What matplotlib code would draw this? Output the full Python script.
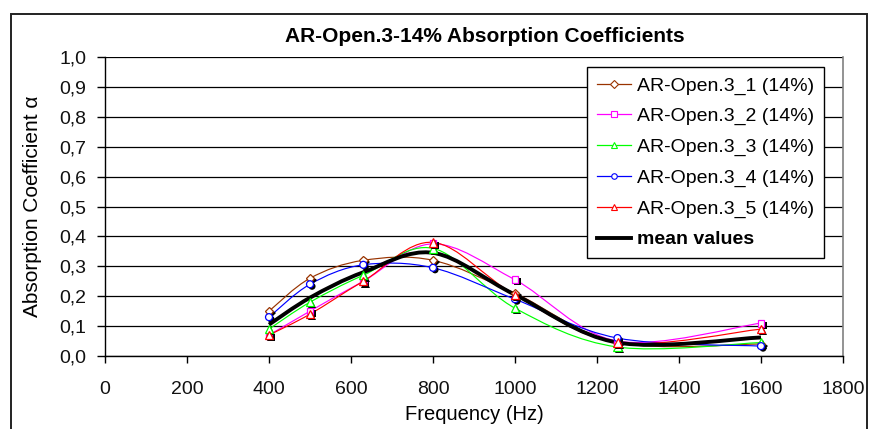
import matplotlib
matplotlib.use("Agg")
import matplotlib.pyplot as plt
import numpy as np
from matplotlib.path import Path
from matplotlib.patches import PathPatch, Rectangle
from matplotlib.lines import Line2D
from matplotlib.ticker import FuncFormatter
import matplotlib.patheffects as pe

plt.rcParams['font.family'] = ['Liberation Sans', 'DejaVu Sans']

# ---- data ----
freqs = [400, 500, 630, 800, 1000, 1250, 1600]
s1 = [0.15, 0.26, 0.32, 0.32, 0.21, 0.045, 0.04]
s2 = [0.07, 0.15, 0.25, 0.375, 0.255, 0.05, 0.11]
s3 = [0.09, 0.18, 0.27, 0.36, 0.16, 0.03, 0.045]
s4 = [0.13, 0.24, 0.305, 0.295, 0.19, 0.06, 0.033]
s5 = [0.07, 0.14, 0.25, 0.38, 0.205, 0.045, 0.09]
mean_vals = [0.105, 0.195, 0.28, 0.345, 0.205, 0.045, 0.062]
series_labels = ["AR-Open.3_1 (14%)", "AR-Open.3_2 (14%)", "AR-Open.3_3 (14%)",
                 "AR-Open.3_4 (14%)", "AR-Open.3_5 (14%)"]
mean_label = "mean values"
title = "AR-Open.3-14% Absorption Coefficients"
xlabel = "Frequency (Hz)"
ylabel = "Absorption Coefficient \u03b1"
xticks = [0, 200, 400, 600, 800, 1000, 1200, 1400, 1600, 1800]
yticks = [0.0, 0.1, 0.2, 0.3, 0.4, 0.5, 0.6, 0.7, 0.8, 0.9, 1.0]

colors = ['#993300', '#FF00FF', '#00FF00', '#0000FF', '#FF0000']
markers = ['D', 's', '^', 'o', '^']
msizes = [4.5, 5, 6, 5, 6]


def smooth_path(x, y):
    pts = np.column_stack([x, y]).astype(float)
    n = len(pts)
    verts = [pts[0]]
    codes = [Path.MOVETO]
    for i in range(n - 1):
        p0 = pts[i - 1] if i > 0 else pts[i]
        p1 = pts[i]
        p2 = pts[i + 1]
        p3 = pts[i + 2] if i + 2 < n else pts[i + 1]
        c1 = p1 + (p2 - p0) / 6.0
        c2 = p2 - (p3 - p1) / 6.0
        verts += [c1, c2, p2]
        codes += [Path.CURVE4] * 3
    return Path(verts, codes)


W, H = 869, 429
fig = plt.figure(figsize=(W / 100, H / 100), dpi=100)
fig.patch.set_facecolor('white')
ax = fig.add_axes([105 / W, 1 - 356 / H, (843 - 105) / W, (356 - 57) / H])

ax.set_xlim(0, 1800)
ax.set_ylim(0, 1.0)

# grid
for v in yticks:
    ax.axhline(v, color='black', lw=0.9, zorder=1)

all_series = [s1, s2, s3, s4, s5]
shadow = [pe.SimplePatchShadow(offset=(1.5, -1.5), shadow_rgbFace='black', alpha=1.0), pe.Normal()]
for s, c in zip(all_series, colors):
    ax.add_patch(PathPatch(smooth_path(freqs, s), fill=False, edgecolor=c, lw=0.85,
                           transform=ax.transData, zorder=3))
for s, c, m, ms in zip(all_series, colors, markers, msizes):
    ax.plot(freqs, s, linestyle='none', marker=m, markersize=ms, markerfacecolor='white',
            markeredgecolor=c, markeredgewidth=0.9, zorder=5, path_effects=shadow)
ax.add_patch(PathPatch(smooth_path(freqs, mean_vals), fill=False, edgecolor='black', lw=2.8,
                       transform=ax.transData, zorder=4))

# spines
ax.spines['top'].set_visible(False)
ax.spines['right'].set_color('#808080')
ax.spines['right'].set_linewidth(1.2)
ax.spines['left'].set_color('black')
ax.spines['bottom'].set_color('black')
ax.spines['left'].set_linewidth(1.0)
ax.spines['bottom'].set_linewidth(1.0)

ax.set_xticks(xticks)
ax.set_yticks(yticks)
ax.yaxis.set_major_formatter(FuncFormatter(lambda v, p: f"{v:.1f}".replace('.', ',')))
ax.xaxis.set_major_formatter(FuncFormatter(lambda v, p: f"{int(round(v))}"))
ax.tick_params(axis='both', direction='out', width=1.0, color='black',
               labelsize=14, labelcolor='#111111')
ax.tick_params(axis='x', length=5, pad=13)
ax.tick_params(axis='y', length=6, pad=7.5)

ax.set_xlabel(xlabel, fontsize=14.5, va='baseline')
ax.xaxis.set_label_coords((474 - 105) / (843 - 105), -(420.5 - 356) / (356 - 57))
ax.set_ylabel(ylabel, fontsize=15, va='center')
ax.yaxis.set_label_coords((33 - 105) / (843 - 105), 0.5)

fig.text(485 / W, 1 - 36 / H, title, ha='center', va='center', fontsize=15, fontweight='bold')

# legend
handles = []
for c, m in zip(colors, markers):
    handles.append(Line2D([0], [0], color=c, lw=0.9, marker=m, markersize=4,
                          markerfacecolor='white', markeredgecolor=c, markeredgewidth=0.8))
handles.append(Line2D([0], [0], color='black', lw=2.8))
labels = series_labels + [mean_label]
leg = fig.legend(handles, labels, loc='upper right', bbox_to_anchor=(824 / W, 1 - 67 / H),
                 bbox_transform=fig.transFigure, fontsize=14, frameon=True, fancybox=False,
                 edgecolor='black', framealpha=1, numpoints=1, handlelength=1.75,
                 handletextpad=0.3, labelspacing=0.67, borderpad=0.5, borderaxespad=0)
leg.get_frame().set_linewidth(1.0)
leg.texts[-1].set_fontweight('bold')

# outer chart border
fig.patches.append(Rectangle((11 / W, -0.1), (867 - 11) / W, 1 - 14 / H + 0.1,
                             transform=fig.transFigure, fill=False, edgecolor='#222222',
                             lw=1.4, figure=fig))

fig.savefig('out.png', dpi=100)
